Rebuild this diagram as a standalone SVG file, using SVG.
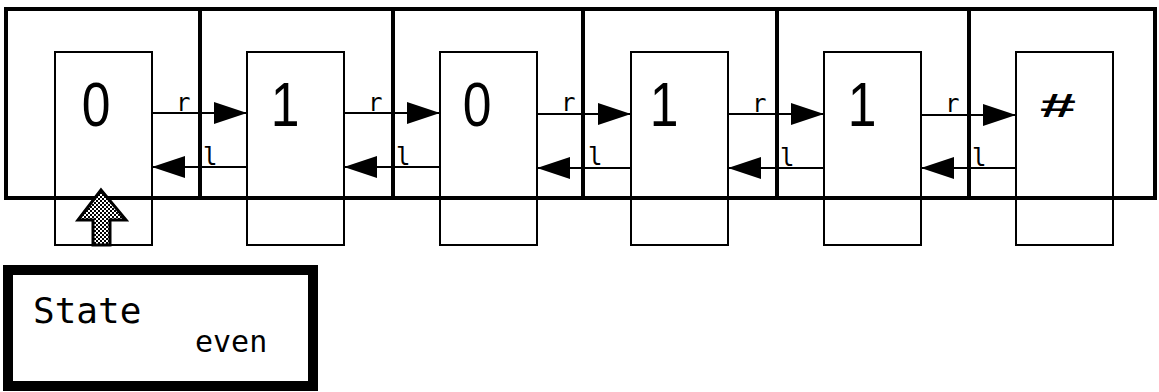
<svg xmlns="http://www.w3.org/2000/svg" width="1159" height="392" viewBox="0 0 1159 392">
<style>
.cell{fill:none;stroke:#000;stroke-width:4}
.box{fill:none;stroke:#000;stroke-width:2}
.sym{font-family:"Liberation Sans",Arial,sans-serif;font-size:63px;fill:#000}
.lab{font-family:"DejaVu Sans Mono",monospace;font-size:24px;fill:#000}
.con{stroke:#000;stroke-width:2;fill:none;marker-end:url(#ah)}
.st{font-family:"DejaVu Sans Mono",monospace;fill:#000}
</style>
<defs>
<marker id="ah" markerUnits="userSpaceOnUse" markerWidth="34" markerHeight="24" refX="33" refY="11" orient="auto">
<path d="M0,0 L33,11 L0,22 Z" fill="#000"/>
</marker>
<pattern id="dith" width="4" height="4" patternUnits="userSpaceOnUse">
<rect width="4" height="4" fill="#fff"/>
<rect width="2" height="2" fill="#000"/>
<rect x="2" y="2" width="2" height="2" fill="#000"/>
</pattern>
</defs>
<rect width="1159" height="392" fill="#fff"/>
<g id="cell0"><rect class="cell" x="6" y="9" width="194" height="189"/><rect class="box" x="55" y="52" width="97" height="193"/><text class="sym" transform="translate(96,126) scale(0.82,1)" text-anchor="middle">0</text></g>
<g id="cell1"><rect class="cell" x="200" y="9" width="193" height="189"/><rect class="box" x="247" y="52" width="97" height="193"/><text class="sym" transform="translate(285,126) scale(0.82,1)" text-anchor="middle">1</text></g>
<g id="cell2"><rect class="cell" x="393" y="9" width="190" height="189"/><rect class="box" x="440" y="52" width="97" height="193"/><text class="sym" transform="translate(477,126) scale(0.82,1)" text-anchor="middle">0</text></g>
<g id="cell3"><rect class="cell" x="583" y="9" width="194" height="189"/><rect class="box" x="631" y="52" width="97" height="193"/><text class="sym" transform="translate(664,126) scale(0.82,1)" text-anchor="middle">1</text></g>
<g id="cell4"><rect class="cell" x="777" y="9" width="192" height="189"/><rect class="box" x="824" y="52" width="97" height="193"/><text class="sym" transform="translate(862,126) scale(0.82,1)" text-anchor="middle">1</text></g>
<g id="cell5"><rect class="cell" x="969" y="9" width="186" height="189"/><rect class="box" x="1016" y="52" width="97" height="193"/><text class="sym" transform="translate(1058,117) scale(1.9,1)" text-anchor="middle" style="font-size:34px;font-weight:bold">#</text></g>
<g id="connectors">
<line class="con" x1="152" y1="113" x2="247" y2="113"/><line class="con" x1="247" y1="167" x2="152" y2="167"/>
<line class="con" x1="344" y1="113" x2="440" y2="113"/><line class="con" x1="440" y1="167" x2="344" y2="167"/>
<line class="con" x1="537" y1="114" x2="631" y2="114"/><line class="con" x1="631" y1="168" x2="537" y2="168"/>
<line class="con" x1="728" y1="114" x2="824" y2="114"/><line class="con" x1="824" y1="168" x2="728" y2="168"/>
<line class="con" x1="921" y1="115" x2="1016" y2="115"/><line class="con" x1="1016" y1="168" x2="921" y2="168"/>
<text class="lab" x="176" y="111">r</text><text class="lab" x="203" y="165">l</text>
<text class="lab" x="368" y="111">r</text><text class="lab" x="396" y="165">l</text>
<text class="lab" x="561" y="111">r</text><text class="lab" x="588" y="165">l</text>
<text class="lab" x="752" y="112">r</text><text class="lab" x="780" y="166">l</text>
<text class="lab" x="945" y="112">r</text><text class="lab" x="972" y="166">l</text>
</g>
<g id="pointer"><polygon points="101,190 126,220 110,220 110,245 93,245 93,220 78,220" fill="url(#dith)" stroke="#000" stroke-width="3"/></g>
<g id="state"><rect x="8" y="270" width="305" height="116" fill="#fff" stroke="#000" stroke-width="10"/>
<text class="st" x="33" y="323" style="font-size:36px">State</text>
<text class="st" x="195" y="352" style="font-size:30px">even</text></g>
</svg>
